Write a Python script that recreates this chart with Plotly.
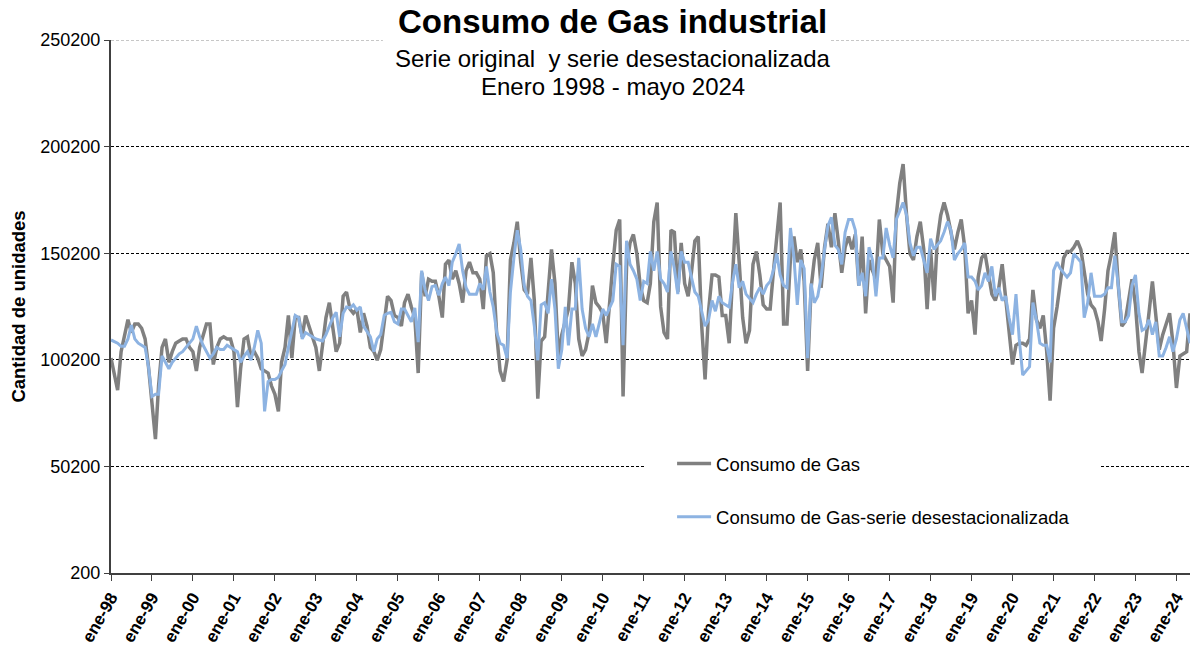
'''
Consumo de Gas industrial
Serie original y serie desestacionalizada, enero 1998 - mayo 2024
'''

import pandas as pd
import plotly.graph_objects as go


'''
DATA
valores mensuales en miles de unidades, una fila por año
'''
# consumo de gas (serie original)
consumo = [
    101, 94, 86, 104, 112, 119, 113, 117, 117, 115, 110, 97,      # 1998
    80, 63, 88, 106, 110, 99, 104, 108, 109, 110, 110, 106,       # 1999
    104, 95, 106, 111, 117, 117, 98, 106, 110, 111, 110, 110,     # 2000
    104, 78, 96, 110, 111, 102, 104, 101, 96, 95, 94, 88,         # 2001
    84, 76, 99, 106, 121, 101, 120, 120, 111, 121, 116, 111,      # 2002
    106, 95, 108, 120, 127, 116, 104, 108, 130, 132, 124, 122,    # 2003
    124, 113, 122, 116, 106, 104, 100, 105, 118, 130, 128, 121,   # 2004
    120, 116, 127, 131, 125, 120, 94, 141, 130, 138, 137, 137,    # 2005
    130, 120, 145, 147, 138, 142, 136, 127, 142, 146, 141, 141,   # 2006
    138, 124, 149, 150, 141, 112, 95, 90, 100, 147, 155, 165,     # 2007
    146, 133, 131, 148, 128, 82, 109, 111, 132, 152, 136, 102,    # 2008
    112, 118, 124, 146, 136, 110, 102, 105, 113, 135, 127, 125,   # 2009
    122, 108, 128, 145, 161, 166, 83, 144, 155, 159, 150, 135,    # 2010
    128, 127, 136, 165, 174, 125, 113, 110, 161, 160, 132, 155,   # 2011
    136, 130, 141, 156, 158, 116, 91, 123, 140, 140, 139, 121,    # 2012
    121, 108, 137, 169, 146, 120, 108, 114, 145, 151, 140, 126,   # 2013
    124, 124, 141, 160, 174, 117, 117, 148, 158, 146, 152, 137,   # 2014
    95, 134, 147, 155, 134, 153, 164, 153, 169, 156, 141, 153,    # 2015
    158, 152, 159, 135, 158, 122, 147, 142, 138, 166, 150, 147,   # 2016
    144, 127, 168, 183, 192, 168, 150, 147, 158, 165, 152, 124,   # 2017
    152, 128, 156, 168, 174, 168, 161, 152, 160, 166, 153, 122,   # 2018
    128, 112, 139, 148, 150, 140, 131, 128, 134, 145, 128, 114,   # 2019
    98, 107, 108, 108, 107, 110, 133, 119, 115, 121, 104, 81,     # 2020
    115, 125, 135, 148, 151, 151, 153, 156, 152, 142, 131, 126,   # 2021
    124, 118, 109, 124, 142, 150, 160, 135, 116, 118, 128, 138,   # 2022
    126, 104, 94, 110, 122, 137, 121, 105, 112, 117, 122, 108,    # 2023
    87, 102, 103, 104, 122,                                       # 2024
]

# consumo de gas - serie desestacionalizada
desestacionalizada = [
    109.5, 108.5, 108, 106.5, 106.5, 110, 116.5, 110, 108, 107, 106, 97,   # 1998
    83, 84, 84, 102, 99, 96, 99, 101, 103, 104, 106, 108,                  # 1999
    110, 116, 111, 107, 104, 101, 103, 106, 105, 105, 107, 106,            # 2000
    105, 104, 99, 102, 104, 100, 106, 114, 108, 76, 90, 91,                # 2001
    91, 92, 95, 98, 106, 114, 121, 120, 110, 113, 112, 111,                # 2002
    110, 109.5, 109, 112, 116, 120, 122.5, 111, 122, 125, 124.5, 126,      # 2003
    123.5, 125, 116, 113.5, 111, 104, 110, 112, 121, 122, 122.5, 118,      # 2004
    117, 124, 124, 121, 118, 124.5, 108.5, 142, 133, 128, 134.5, 135,      # 2005
    130.5, 136, 139, 135, 146, 150, 154.5, 142, 134, 131, 131, 131,        # 2006
    136, 133, 144, 132, 125, 113, 108, 107, 101, 132, 148, 161,            # 2007
    152, 135, 130, 128, 116, 100, 126, 127, 122, 138, 124, 96,             # 2008
    105, 125, 107, 124, 124, 148, 124, 115, 111, 117, 111, 118,            # 2009
    124, 121, 124, 128, 145, 144, 107, 156, 145, 142, 138, 128,            # 2010
    137, 136, 151, 142, 151, 138, 136, 132, 151, 143, 131, 151,            # 2011
    146, 146, 139, 132, 130, 122, 116, 119, 128, 123, 130, 127,            # 2012
    126, 125, 136, 145, 134, 137, 131, 129, 127, 131, 134, 131,            # 2013
    135, 137, 142, 150, 140, 135, 134, 162, 148, 126, 147, 143,            # 2014
    101, 136, 127, 130, 139, 152, 163, 167, 154, 152, 145, 160,            # 2015
    166, 166, 161, 135, 141, 130, 153, 147, 130, 148, 148, 162,            # 2016
    154, 148, 166, 170, 174, 168, 155, 149, 153, 153, 147, 141,            # 2017
    157, 152, 154, 156, 160, 165, 161, 147, 150, 152, 155, 139,            # 2018
    139, 137, 133, 135, 141, 137, 144, 130, 134, 128, 130, 120,            # 2019
    112, 131, 110, 93, 95, 97, 127, 119, 108, 107, 107, 99,                # 2020
    142, 146, 143, 141, 139, 141, 150, 148, 146, 120, 127, 141,            # 2021
    130, 130, 130, 131, 134, 134, 149, 135, 118, 118, 121, 135,            # 2022
    140, 122, 114, 115, 119, 112, 118, 102, 102, 106, 111, 104,            # 2023
    110, 119, 122, 115, 108,                                               # 2024
]

# etiquetas del eje x (enero de cada año)
anios = list(range(1998, 2025))
etiquetas = ['ene-98', 'ene-99', 'ene-00', 'ene-01', 'ene-02', 'ene-03', 'ene-04',
             'ene-05', 'ene-06', 'ene-07', 'ene-08', 'ene-09', 'ene-10', 'ene-11',
             'ene-12', 'ene-13', 'ene-14', 'ene-15', 'ene-16', 'ene-17', 'ene-18',
             'ene-19', 'ene-20', 'ene-21', 'ene-22', 'ene-23', 'ene-24']
ticks_y = [200, 50200, 100200, 150200, 200200, 250200]

# fechas mensuales
fechas = pd.date_range('1998-01-01', periods=len(consumo), freq='MS')
ticks_x = [pd.Timestamp(a, 1, 1) for a in anios]

FONT = 'Liberation Sans, Arial, sans-serif'


'''
FIGURE
'''
fig = go.Figure()

fig.add_trace(go.Scatter(
    x=fechas, y=[v * 1000 for v in consumo],
    mode='lines', name='Consumo de Gas', legendgroup='a',
    line=dict(color='#808080', width=3.5)))

fig.add_trace(go.Scatter(
    x=fechas, y=[v * 1000 for v in desestacionalizada],
    mode='lines', name='Consumo de Gas-serie desestacionalizada', legendgroup='b',
    line=dict(color='#8DB3E2', width=3)))

fig.update_layout(
    width=1192, height=648,
    margin=dict(l=111, r=2, t=40, b=75),
    paper_bgcolor='white', plot_bgcolor='white',
    font=dict(family=FONT, color='black'),
    showlegend=True,
    legend=dict(x=0.52, y=0.24, xanchor='left', yanchor='top',
                bgcolor='white', font=dict(size=18.5, family=FONT),
                tracegroupgap=26, itemwidth=34),
)

fig.update_xaxes(
    type='date', range=[fechas[0], fechas[-1]], automargin=False,
    tickvals=ticks_x, ticktext=etiquetas, tickangle=-60,
    tickfont=dict(size=17, family=FONT, weight='bold'),
    ticks='outside', ticklen=6, tickcolor='#404040',
    showline=True, linecolor='#404040', linewidth=2,
    showgrid=False, zeroline=False)

fig.update_yaxes(
    range=[200, 250200], tickvals=ticks_y, automargin=False,
    ticktext=[str(t) for t in ticks_y],
    tickfont=dict(size=18, family=FONT),
    ticks='outside', ticklen=5, tickcolor='#404040',
    showline=True, linecolor='#404040', linewidth=2,
    showgrid=True, gridcolor='black', gridwidth=1, griddash='3px,2px',
    zeroline=False,
    title=dict(text='Cantidad de unidades', standoff=10,
               font=dict(size=18.5, family=FONT, weight='bold')))

# linea superior gris y cajas blancas del titulo y la leyenda
fig.add_shape(type='line', xref='paper', yref='y', x0=0, x1=1, y0=250200, y1=250200,
              line=dict(color='white', width=2))
fig.add_shape(type='line', xref='paper', yref='y', x0=0, x1=1, y0=250200, y1=250200,
              line=dict(color='#909090', width=1, dash='3px,2px'))
fig.add_shape(type='rect', xref='paper', yref='paper', x0=0.252, x1=0.666, y0=0.88, y1=1.06,
              fillcolor='white', line=dict(width=0))
fig.add_shape(type='rect', xref='paper', yref='paper', x0=0.495, x1=0.917, y0=0.07, y1=0.24,
              fillcolor='white', line=dict(width=0))

# titulo
fig.add_annotation(text='<b>Consumo de Gas industrial</b>', xref='paper', yref='paper',
                   x=0.465, y=1.034, xanchor='center', yanchor='middle', showarrow=False,
                   font=dict(size=33, family=FONT))
fig.add_annotation(text='Serie original  y serie desestacionalizada',
                   xref='paper', yref='paper', x=0.465, y=0.966, xanchor='center',
                   yanchor='middle', showarrow=False, font=dict(size=24, family=FONT))
fig.add_annotation(text='Enero 1998 - mayo 2024',
                   xref='paper', yref='paper', x=0.465, y=0.912, xanchor='center',
                   yanchor='middle', showarrow=False, font=dict(size=24, family=FONT))

fig.write_html('out.html', config={'displayModeBar': False},
               post_script="document.body.style.margin='0px';")
